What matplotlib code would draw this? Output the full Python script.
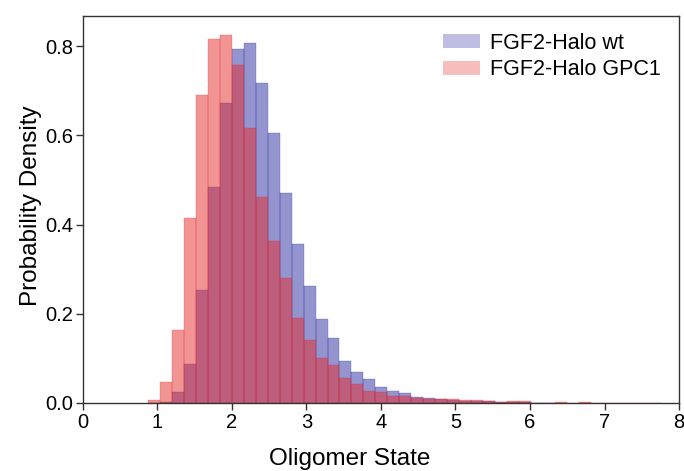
import numpy as np
import matplotlib.pyplot as plt
from matplotlib.patches import Patch

plt.rcParams['font.family'] = ['Liberation Sans', 'DejaVu Sans']

# histogram bins (left edges) shared by both series
bin_start = 0.875
bin_width = 0.1605

wt = [0.0, 0.002, 0.025, 0.088, 0.254, 0.484, 0.673, 0.794, 0.808, 0.718,
      0.606, 0.472, 0.356, 0.262, 0.188, 0.145, 0.094, 0.0695, 0.054, 0.036,
      0.027, 0.022, 0.014, 0.0105, 0.008, 0.007, 0.005, 0.005, 0.004, 0.003,
      0.003, 0.002, 0.001, 0.001]
gpc1 = [0.0075, 0.046, 0.164, 0.415, 0.691, 0.816, 0.826, 0.759, 0.617, 0.463,
        0.364, 0.280, 0.191, 0.141, 0.101, 0.085, 0.056, 0.043, 0.027, 0.025,
        0.016, 0.015, 0.011, 0.010, 0.0097, 0.008, 0.006, 0.0075, 0.005, 0.003,
        0.005, 0.0045, 0.001, 0.001, 0.003, 0.001, 0.002, 0.001, 0.001, 0.0005,
        0.001, 0.0005, 0.001]
labels = ['FGF2-Halo wt', 'FGF2-Halo GPC1']

blue = '#2a2aa0'
red = '#e62a2a'

fig = plt.figure(figsize=(6.84, 4.71), dpi=100)
ax = fig.add_axes([0.1213, 0.1444, 0.8714, 0.8216])

x_wt = bin_start + bin_width * np.arange(len(wt))
x_gp = bin_start + bin_width * np.arange(len(gpc1))
ax.bar(x_wt, wt, width=bin_width, align='edge', color=blue, alpha=0.5,
       edgecolor=blue, linewidth=0.35)
ax.bar(x_gp, gpc1, width=bin_width, align='edge', color=red, alpha=0.5,
       edgecolor=red, linewidth=0.35)

ax.set_xlim(0, 8)
ax.set_ylim(0, 0.868)
ax.set_xticks(range(0, 9))
ax.set_yticks([0.0, 0.2, 0.4, 0.6, 0.8])
ax.set_yticklabels(['0.0', '0.2', '0.4', '0.6', '0.8'])
ax.tick_params(labelsize=14.5, direction='out', length=5, width=1,
               color='#333333', pad=2)
ax.set_xlabel('Oligomer State', fontsize=17.5)
ax.xaxis.set_label_coords(0.448, -0.116)
ax.set_ylabel('Probability Density', fontsize=17.5)
ax.yaxis.set_label_coords(-0.068, 0.51)
for s in ax.spines.values():
    s.set_color('#333333')
    s.set_linewidth(1)

handles = [Patch(facecolor=blue, alpha=0.3), Patch(facecolor=red, alpha=0.3)]
ax.legend(handles, labels, loc='upper left', frameon=False, fontsize=15.5,
          handlelength=1.72, handleheight=0.65, handletextpad=0.47,
          labelspacing=0.26, borderpad=0, borderaxespad=0,
          bbox_to_anchor=(0.604, 0.957))

fig.savefig('out.png', dpi=100)
